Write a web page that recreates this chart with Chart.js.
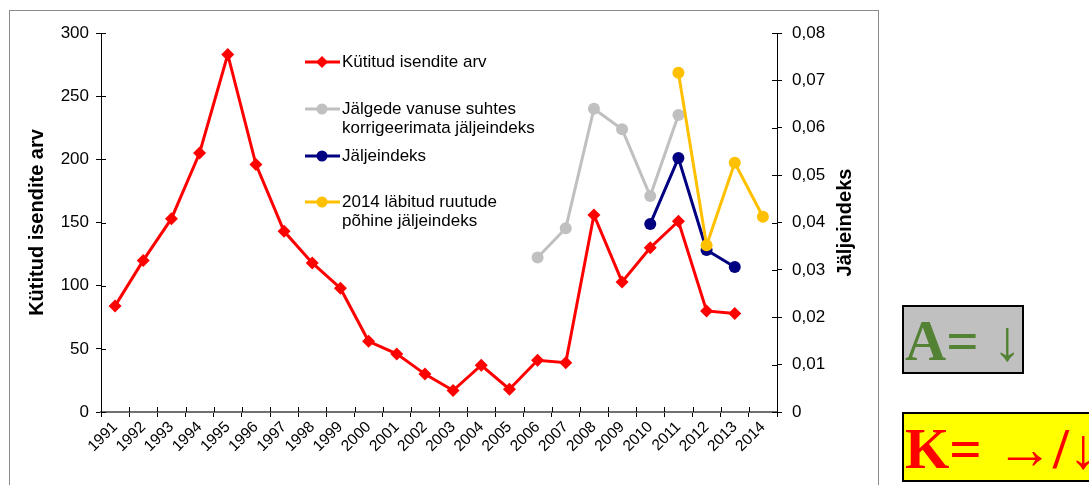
<!DOCTYPE html>
<html>
<head>
<meta charset="utf-8">
<script src="https://cdn.jsdelivr.net/npm/chart.js@4/dist/chart.umd.min.js"></script>
<style>
  html, body { margin: 0; padding: 0; background: #fff; overflow: hidden; }
  #page { position: relative; width: 1089px; height: 485px; overflow: hidden; }
  #frame { position: absolute; left: 9px; top: 10px; width: 868px; height: 500px; border: 1px solid #8c8c8c; }
  #chart { position: absolute; left: 0; top: 0; }
  .tag { position: absolute; box-sizing: border-box; border: 2px solid #000; overflow: hidden;
         font-family: "Liberation Serif", "Times New Roman", serif; font-weight: bold; font-size: 57px; line-height: 1; white-space: nowrap; }
  .tag span { position: absolute; left: 1px; top: 5px; }
  #tagA { left: 902px; top: 305px; width: 122px; height: 69px; background: #c0c0c0; color: #548235; }
  #tagK { left: 902px; top: 412px; width: 260px; height: 70px; background: #ffff00; color: #ff0000; }
  .thin { font-weight: normal; }
</style>
</head>
<body>
<div id="page">
  <div id="frame"></div>
  <canvas id="chart" width="1089" height="485"></canvas>
  <div class="tag" id="tagA"><span>A= <span class="thin" style="position:static">↓</span></span></div>
  <div class="tag" id="tagK"><span style="top:6px">K= →/↓</span></div>
</div>
<script>
// years on the category axis
const years = ['1991', '1992', '1993', '1994', '1995', '1996', '1997', '1998', '1999', '2000', '2001', '2002',
               '2003', '2004', '2005', '2006', '2007', '2008', '2009', '2010', '2011', '2012', '2013', '2014'];

// hunted animals (left axis)
const hunted = [84, 120, 153, 205, 283, 196, 143, 118, 98, 56, 46, 30,
                17, 37, 18, 41, 39, 156, 103, 130, 151, 80, 78, null];

// track indexes (right axis)
const uncorrected = [null, null, null, null, null, null, null, null, null, null, null, null,
                     null, null, null, 0.0326, 0.0388, 0.0640, 0.0597, 0.0456, 0.0627, null, null, null];
const trackIndex = [null, null, null, null, null, null, null, null, null, null, null, null,
                    null, null, null, null, null, null, null, 0.0397, 0.0536, 0.0342, 0.0306, null];
const index2014 = [null, null, null, null, null, null, null, null, null, null, null, null,
                   null, null, null, null, null, null, null, null, 0.0716, 0.0352, 0.0526, 0.0412];

const leftTicks = { min: 0, max: 300, step: 50 };
const rightTicks = { min: 0, max: 0.08, step: 0.01 };

const legendRows = [
    { lines: ['Kütitud isendite arv'], color: '#ff0000', style: 'rectRot', y: 62 },
    { lines: ['Jälgede vanuse suhtes', 'korrigeerimata jäljeindeks'], color: '#c0c0c0', style: 'circle', y: 109 },
    { lines: ['Jäljeindeks'], color: '#000080', style: 'circle', y: 156 },
    { lines: ['2014 läbitud ruutude', 'põhine jäljeindeks'], color: '#ffc000', style: 'circle', y: 202 }
];

const FONT = '"Liberation Sans", Arial, sans-serif';

// legend, axis titles and the inner half of the tick marks
const extras = {
    id: 'extras',
    afterDraw(chart) {
        const ctx = chart.ctx;
        const area = chart.chartArea;
        ctx.save();

        // inner tick marks (ticks cross the axis line)
        ctx.strokeStyle = '#000';
        ctx.lineWidth = 1;
        ctx.beginPath();
        chart.scales.y.ticks.forEach((t, i) => {
            const py = Math.round(chart.scales.y.getPixelForTick(i)) + 0.5;
            ctx.moveTo(area.left, py); ctx.lineTo(area.left + 5, py);
        });
        chart.scales.y1.ticks.forEach((t, i) => {
            const py = Math.round(chart.scales.y1.getPixelForTick(i)) + 0.5;
            ctx.moveTo(area.right, py); ctx.lineTo(area.right - 5, py);
        });
        const xs = chart.scales.x;
        for (let i = 0; i <= years.length; i++) {
            const px = Math.round(xs.getPixelForValue(i - 0.5)) + 0.5;
            ctx.moveTo(px, area.bottom); ctx.lineTo(px, area.bottom - 5);
        }
        ctx.stroke();

        // axis titles
        ctx.fillStyle = '#000';
        ctx.font = 'bold 20px ' + FONT;
        ctx.textAlign = 'center';
        ctx.textBaseline = 'middle';
        const midY = (area.top + area.bottom) / 2;
        ctx.save();
        ctx.translate(area.left - 64, midY);
        ctx.rotate(-Math.PI / 2);
        ctx.fillText('Kütitud isendite arv', 0, 0);
        ctx.restore();
        ctx.save();
        ctx.translate(area.right + 68, midY);
        ctx.rotate(-Math.PI / 2);
        ctx.fillText('Jäljeindeks', 0, 0);
        ctx.restore();

        // legend
        const lx = 305;
        ctx.font = '17px ' + FONT;
        ctx.textAlign = 'left';
        legendRows.forEach(row => {
            ctx.strokeStyle = row.color;
            ctx.lineWidth = 3;
            ctx.beginPath();
            ctx.moveTo(lx, row.y); ctx.lineTo(lx + 35, row.y);
            ctx.stroke();
            ctx.fillStyle = row.color;
            ctx.beginPath();
            if (row.style === 'rectRot') {
                ctx.moveTo(lx + 17, row.y - 6); ctx.lineTo(lx + 23, row.y);
                ctx.lineTo(lx + 17, row.y + 6); ctx.lineTo(lx + 11, row.y);
                ctx.closePath();
            } else {
                ctx.arc(lx + 17, row.y, 5.5, 0, Math.PI * 2);
            }
            ctx.fill();
            ctx.fillStyle = '#000';
            row.lines.forEach((t, k) => ctx.fillText(t, lx + 37, row.y + k * 19));
        });
        ctx.restore();
    }
};

function lineSet(label, data, color, axis, style, order) {
    return {
        label, data, yAxisID: axis, order,
        borderColor: color, backgroundColor: color,
        borderWidth: 3, tension: 0,
        pointStyle: style, pointRadius: style === 'rectRot' ? 6.5 : 6,
        pointBorderWidth: 0, pointHoverRadius: 6
    };
}

new Chart(document.getElementById('chart'), {
    type: 'line',
    data: {
        labels: years,
        datasets: [
            lineSet('Kütitud isendite arv', hunted, '#ff0000', 'y', 'rectRot', 3),
            lineSet('Jälgede vanuse suhtes korrigeerimata jäljeindeks', uncorrected, '#c0c0c0', 'y1', 'circle', 2),
            lineSet('Jäljeindeks', trackIndex, '#000080', 'y1', 'circle', 1),
            lineSet('2014 läbitud ruutude põhine jäljeindeks', index2014, '#ffc000', 'y1', 'circle', 0)
        ]
    },
    options: {
        responsive: false,
        devicePixelRatio: 1,
        animation: false,
        layout: { padding: { top: 33, left: 0, right: 0, bottom: 0 } },
        plugins: { legend: { display: false }, tooltip: { enabled: false } },
        scales: {
            x: {
                offset: true,
                grid: { offset: true, drawOnChartArea: false, tickLength: 5, color: '#000' },
                border: { color: '#707070', width: 2 },
                ticks: { color: '#000', font: { family: FONT, size: 15.5 }, minRotation: 45, maxRotation: 45, padding: 1, autoSkip: false },
                afterFit: s => { s.height = 73; }
            },
            y: {
                position: 'left',
                min: leftTicks.min, max: leftTicks.max,
                grid: { drawOnChartArea: false, tickLength: 5, color: '#000' },
                border: { color: '#000', width: 1 },
                ticks: { stepSize: leftTicks.step, color: '#000', font: { family: FONT, size: 17 }, padding: 7 },
                afterFit: s => { s.width = 101; }
            },
            y1: {
                position: 'right',
                min: rightTicks.min, max: rightTicks.max,
                grid: { drawOnChartArea: false, tickLength: 5, color: '#000' },
                border: { color: '#000', width: 1 },
                ticks: {
                    stepSize: rightTicks.step, color: '#000', font: { family: FONT, size: 17 }, padding: 10,
                    callback: v => (Math.abs(v) < 1e-9 ? '0' : v.toFixed(2).replace('.', ','))
                },
                afterFit: s => { s.width = 312; }
            }
        }
    },
    plugins: [extras]
});
</script>
</body>
</html>
